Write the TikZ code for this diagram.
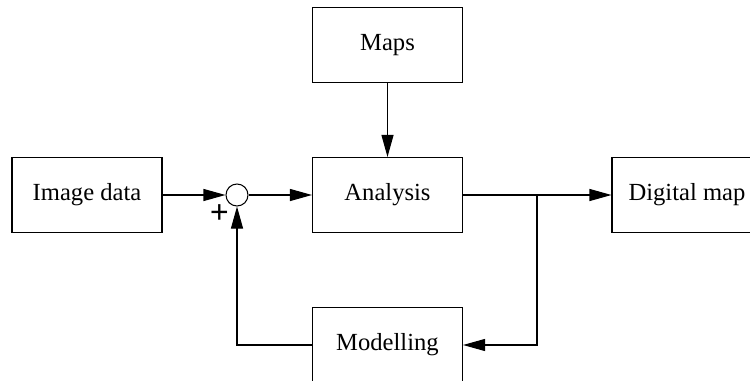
\documentclass[tikz,border=0pt]{standalone}
\usepackage{fontspec}
\setmainfont{Liberation Serif}
\usetikzlibrary{arrows.meta}
\usetikzlibrary{positioning}

\tikzset{
    block/.style={draw, line width=0.6pt, minimum width=3cm, minimum height=1.5cm, inner sep=0pt},
    sumnode/.style={draw, circle, line width=0.6pt, minimum size=0.44cm, inner sep=0pt},
    flow/.style={line width=0.6pt, -{Triangle[length=0.44cm, width=0.24cm]}}
}

\begin{document}
\begin{tikzpicture}[font=\fontsize{14}{16}\selectfont]
    \def\row{-3.9};
    \def\gap{3};

    \clip (0, 0) rectangle (15, -7.62);
    \useasboundingbox (0, 0) rectangle (15, -7.62);

    \node[block] (ana) at (7.75, \row) {Analysis};
    \node[block, above=\gap cm of ana.center, anchor=center] (maps) {Maps};
    \node[block, below=\gap cm of ana.center, anchor=center] (mod) {Modelling};
    \node[block] (img) at (1.74, \row) {Image data};
    \node[block] (dig) at (13.74, \row) {Digital map};
    \node[sumnode] (sum) at (4.74, \row) {};
    \node[font=\fontsize{19}{20}\selectfont\bfseries, inner sep=0pt] (plus) at (4.39, -4.29) {+};
    \coordinate (J) at (10.74, \row);

    \draw[flow] (img) -- (sum);
    \draw[flow] (sum) -- (ana);
    \draw[flow] (maps) -- (ana);
    \draw[flow] (ana) -- (dig);
    \draw[flow] (J) |- (mod.east);
    \draw[flow] (mod.west) -| (sum.south);

\end{tikzpicture}
\end{document}
